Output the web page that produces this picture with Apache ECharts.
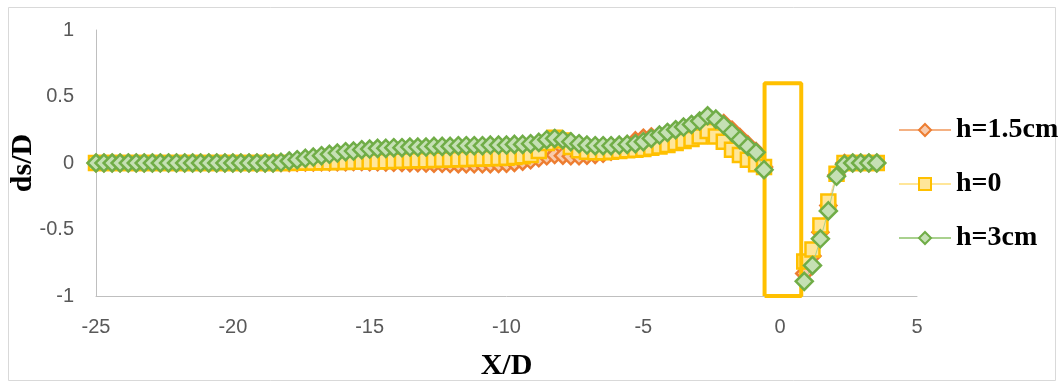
<!DOCTYPE html>
<html><head><meta charset="utf-8">
<script src="https://cdn.jsdelivr.net/npm/echarts@6/dist/echarts.min.js"></script>
<style>html,body{margin:0;padding:0;background:#fff}#c{width:1063px;height:385px}</style>
</head><body><div id="c"></div>
<script>
// X/D positions upstream of the pier (left) and downstream (right)
const xLeft = [-25.00,-24.71,-24.41,-24.12,-23.82,-23.53,-23.24,-22.94,-22.65,-22.35,-22.06,-21.76,-21.47,-21.18,-20.88,-20.59,-20.29,-20.00,-19.71,-19.41,-19.12,-18.82,-18.53,-18.24,-17.94,-17.65,-17.35,-17.06,-16.76,-16.47,-16.18,-15.88,-15.59,-15.29,-15.00,-14.71,-14.41,-14.12,-13.82,-13.53,-13.24,-12.94,-12.65,-12.35,-12.06,-11.76,-11.47,-11.18,-10.88,-10.59,-10.29,-10.00,-9.71,-9.41,-9.12,-8.82,-8.53,-8.24,-7.94,-7.65,-7.35,-7.06,-6.76,-6.47,-6.18,-5.88,-5.59,-5.29,-5.00,-4.71,-4.41,-4.12,-3.82,-3.53,-3.24,-2.94,-2.65,-2.35,-2.06,-1.76,-1.47,-1.18,-0.88,-0.59];
const xRight = [0.88,1.18,1.47,1.76,2.06,2.35,2.65,2.94,3.24,3.53];

const h15Left = [0,0,0,0,0,0,0,0,0,0,0,0,0,0,0,0,0,0,0,0,0,0,0,0,0,
  0.002,0.003,0.004,0.005,0.005,0.006,0.006,0.007,0.007,0.006,0.005,0.004,0.002,0,-0.001,-0.002,
  -0.004,-0.005,-0.006,-0.008,-0.009,-0.01,-0.01,-0.01,-0.009,-0.008,-0.006,
  0,0.01,0.02,0.035,0.05,0.06,0.055,0.05,0.05,0.055,0.06,0.07,0.085,0.11,0.14,
  0.17,0.19,0.2,0.2,0.21,0.225,0.245,0.265,0.29,0.32,0.325,0.3,0.25,0.195,0.14,0.09,-0.03];
const h15Right = [-0.83,-0.70,-0.52,-0.32,-0.09,0,0,0,0,0];

const h0Left = [0,0,0,0,0,0,0,0,0,0,0,0,0,0,0,0,0,0,0,0,0,0,0,0,0,
  0.002,0.003,0.004,0.005,0.006,0.007,0.008,0.009,0.01,0.01,0.012,
  0.013,0.015,0.017,0.018,0.02,0.021,0.023,0.025,0.026,0.028,0.03,0.032,0.034,0.036,0.038,0.04,
  0.045,0.05,0.06,0.09,0.15,0.19,0.17,0.12,0.095,0.085,0.08,0.08,0.085,0.09,0.095,
  0.1,0.105,0.115,0.125,0.135,0.15,0.165,0.18,0.2,0.24,0.2,0.16,0.1,0.06,0.025,-0.01,-0.03];
const h0Right = [-0.74,-0.65,-0.47,-0.29,-0.08,0,0,0,0,0];

const h3Left = [0,0,0,0,0,0,0,0,0,0,0,0,0,0,0,0,0,0,0,0,0,0,0,
  0.005,0.015,0.025,0.035,0.045,0.055,0.065,0.075,0.085,0.09,0.1,0.105,0.11,
  0.11,0.115,0.115,0.12,0.12,0.12,0.125,0.125,0.125,0.13,0.13,0.13,0.13,0.135,0.135,0.135,
  0.14,0.14,0.145,0.155,0.175,0.185,0.175,0.16,0.145,0.135,0.13,0.13,0.13,0.135,0.14,
  0.145,0.16,0.185,0.21,0.23,0.25,0.27,0.29,0.315,0.355,0.33,0.285,0.23,0.175,0.125,0.08,-0.05];
const h3Right = [-0.89,-0.77,-0.57,-0.36,-0.10,-0.01,0,0,0,0];

// pier outline
const pierX = [-0.57,-0.57,0.77,0.77,-0.57];
const pierY = [-1,0.6,0.6,-1,-1];

const seriesNames = ['h=1.5cm','h=0','h=3cm'];
const xTicks = {min:-25, max:5, interval:5};
const yTicks = {min:-1, max:1, interval:0.5};

function pts(xl, yl, xr, yr){
  const d = xl.map((x,i)=>[x, yl[i]]);
  d.push([0,'-']);
  xr.forEach((x,i)=>d.push([x, yr[i]]));
  return d;
}

const chart = echarts.init(document.getElementById('c'), null, {renderer:'canvas'});
const serif = "'Liberation Serif','Times New Roman',serif";
const sans = "'Liberation Sans',Arial,sans-serif";
chart.setOption({
  animation:false,
  backgroundColor:'#fff',
  graphic:[{type:'rect', shape:{x:8.5,y:7.5,width:1047,height:373}, style:{fill:'none',stroke:'#D9D9D9',lineWidth:1}, silent:true}],
  grid:{left:96, top:30, right:146, bottom:89, containLabel:false, outerBoundsMode:'none'},
  xAxis:{type:'value', min:xTicks.min, max:xTicks.max, interval:xTicks.interval,
    axisLine:{show:true, onZero:false, lineStyle:{color:'#BFBFBF',width:1}},
    axisTick:{show:false}, splitLine:{show:false},
    axisLabel:{margin:21, color:'#595959', fontSize:20, fontFamily:sans},
    name:'X/D', nameLocation:'middle', nameGap:55, nameMoveOverlap:false,
    nameTextStyle:{fontFamily:serif, fontWeight:'bold', fontSize:30, color:'#000'}},
  yAxis:{type:'value', min:yTicks.min, max:yTicks.max, interval:yTicks.interval,
    axisLine:{show:true, onZero:false, lineStyle:{color:'#BFBFBF',width:1}},
    axisTick:{show:false}, splitLine:{show:false},
    axisLabel:{margin:22, color:'#595959', fontSize:20, fontFamily:sans},
    name:'ds/D', nameLocation:'middle', nameGap:58, nameRotate:90, nameMoveOverlap:false,
    nameTextStyle:{fontFamily:serif, fontWeight:'bold', fontSize:30, color:'#000'}},
  legend:{orient:'vertical', left:893, top:111, itemGap:26, itemWidth:52, itemHeight:15,
    data:seriesNames,
    textStyle:{fontFamily:serif, fontWeight:'bold', fontSize:28, color:'#000'}},
  series:[
    {name:seriesNames[0], type:'line', data:pts(xLeft,h15Left,xRight,h15Right),
     symbol:'diamond', symbolSize:16, lineStyle:{color:'#F4B183', width:1},
     itemStyle:{color:'#F8CBAD', borderColor:'#ED7D31', borderWidth:2.5}, z:2},
    {name:seriesNames[1], type:'line', data:pts(xLeft,h0Left,xRight,h0Right),
     symbol:'rect', symbolSize:14, lineStyle:{color:'#FFE699', width:1},
     itemStyle:{color:'#FFE699', borderColor:'#FFC000', borderWidth:2.5}, z:3},
    {name:'pier', type:'line', data:pierX.map((x,i)=>[x,pierY[i]]), symbol:'none',
     lineStyle:{color:'#FFC000', width:4}, z:4, silent:true},
    {name:seriesNames[2], type:'line', data:pts(xLeft,h3Left,xRight,h3Right),
     symbol:'diamond', symbolSize:17, lineStyle:{color:'#A9D18E', width:1},
     itemStyle:{color:'#C5E0B4', borderColor:'#70AD47', borderWidth:2.5}, z:5}
  ]
});
</script></body></html>
